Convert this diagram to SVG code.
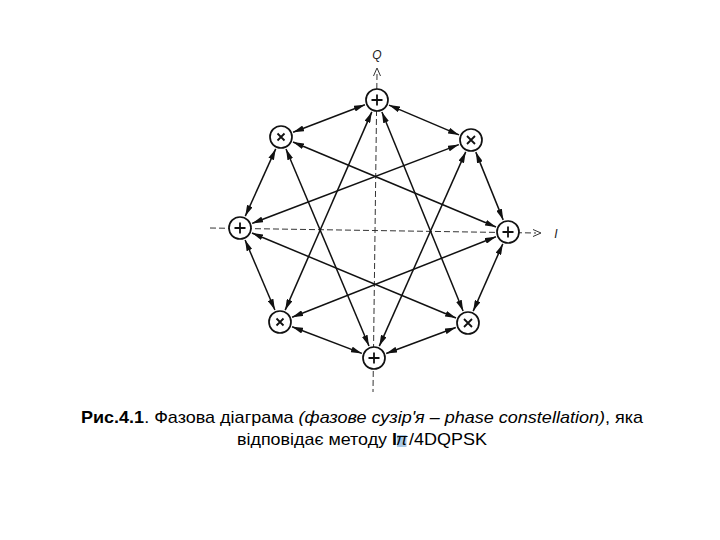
<svg xmlns="http://www.w3.org/2000/svg" width="720" height="540" viewBox="0 0 720 540">
<style>
.node circle{fill:#fff;stroke:#111;stroke-width:1.7}
.sym{stroke:#111;stroke-width:1.8;fill:none}
.edge{stroke:#111;stroke-width:1.5;fill:none;marker-start:url(#ah);marker-end:url(#ah)}
.axis{stroke:#333;stroke-width:1;fill:none;stroke-dasharray:6 3}
.chev{stroke:#333;stroke-width:1;fill:none}
.lbl{font-family:"Liberation Sans",Arial,sans-serif;font-style:italic;font-size:12px;fill:#222}
.cap{font-family:"Liberation Sans",Arial,sans-serif;font-size:17px;fill:#000}
</style>
<defs>
<marker id="ah" viewBox="0 0 11 6" refX="11" refY="3" markerWidth="11" markerHeight="6" markerUnits="userSpaceOnUse" orient="auto-start-reverse">
<path d="M0,0 L11,3 L0,6 Z" fill="#111"/>
</marker>
</defs>
<rect width="720" height="540" fill="#fff"/>
<g id="axes">
<line class="axis" x1="377" y1="74" x2="373" y2="392"/>
<path class="chev" d="M373.5,76 L377,68 L380.5,76"/>
<text class="lbl" x="377" y="59" text-anchor="middle">Q</text>
<line class="axis" x1="210" y1="228" x2="536" y2="233"/>
<path class="chev" d="M533,229.5 L541,233 L533,236.5"/>
<text class="lbl" x="556" y="238" text-anchor="middle">I</text>
</g>
<g id="connectors">
<line class="edge" x1="364.9" y1="104.7" x2="293.1" y2="132.3"/>
<line class="edge" x1="389.0" y1="105.1" x2="459.0" y2="134.9"/>
<line class="edge" x1="371.8" y1="111.9" x2="285.2" y2="310.1"/>
<line class="edge" x1="381.9" y1="112.0" x2="463.1" y2="311.0"/>
<line class="edge" x1="503.2" y1="219.9" x2="475.8" y2="152.1"/>
<line class="edge" x1="502.8" y1="243.9" x2="473.2" y2="311.1"/>
<line class="edge" x1="496.0" y1="227.0" x2="293.0" y2="142.0"/>
<line class="edge" x1="495.9" y1="236.8" x2="292.1" y2="317.2"/>
<line class="edge" x1="361.9" y1="353.4" x2="292.1" y2="326.7"/>
<line class="edge" x1="386.2" y1="353.5" x2="455.8" y2="327.5"/>
<line class="edge" x1="369.0" y1="346.0" x2="286.0" y2="149.0"/>
<line class="edge" x1="379.3" y1="346.1" x2="465.7" y2="151.9"/>
<line class="edge" x1="245.3" y1="216.1" x2="275.7" y2="148.9"/>
<line class="edge" x1="245.1" y1="240.0" x2="274.9" y2="310.0"/>
<line class="edge" x1="252.1" y1="223.4" x2="458.9" y2="144.6"/>
<line class="edge" x1="252.0" y1="233.0" x2="456.0" y2="318.0"/>
</g>
<g id="n-top" class="node"><circle cx="377" cy="100" r="11"/><path class="sym" d="M371.5,100 H382.5 M377,94.5 V105.5"/></g>
<g id="n-tl" class="node"><circle cx="281" cy="137" r="11"/><path class="sym" d="M277.5,133.5 L284.5,140.5 M284.5,133.5 L277.5,140.5"/></g>
<g id="n-tr" class="node"><circle cx="471" cy="140" r="11"/><path class="sym" d="M467,136 L475,144 M475,136 L467,144"/></g>
<g id="n-left" class="node"><circle cx="240" cy="228" r="11"/><path class="sym" d="M234.5,228 H245.5 M240,222.5 V233.5"/></g>
<g id="n-right" class="node"><circle cx="508" cy="232" r="11"/><path class="sym" d="M502.5,232 H513.5 M508,226.5 V237.5"/></g>
<g id="n-bl" class="node"><circle cx="280" cy="322" r="11"/><path class="sym" d="M276.5,318.5 L283.5,325.5 M283.5,318.5 L276.5,325.5"/></g>
<g id="n-br" class="node"><circle cx="468" cy="323" r="11"/><path class="sym" d="M464,319 L472,327 M472,319 L464,327"/></g>
<g id="n-bottom" class="node"><circle cx="374" cy="358" r="11"/><path class="sym" d="M368.5,358 H379.5 M374,352.5 V363.5"/></g>
<g id="caption">
<text class="cap" x="81" y="423" textLength="562" lengthAdjust="spacingAndGlyphs"><tspan font-weight="bold">Рис.4.1</tspan>. Фазова діаграма <tspan font-style="italic">(фазове сузір'я – phase constellation)</tspan>, яка</text>
<text class="cap" x="237" y="445" textLength="160" lengthAdjust="spacingAndGlyphs">відповідає методу <tspan font-weight="bold">I</tspan></text>
<rect x="397" y="435" width="9.5" height="12" fill="#a9c9e6"/>
<text class="cap" x="401.7" y="445" text-anchor="middle" font-style="italic" font-size="14" fill="#46607a">π</text>
<text class="cap" x="409" y="445" textLength="78" lengthAdjust="spacingAndGlyphs">/4DQPSK</text>
</g>
</svg>
